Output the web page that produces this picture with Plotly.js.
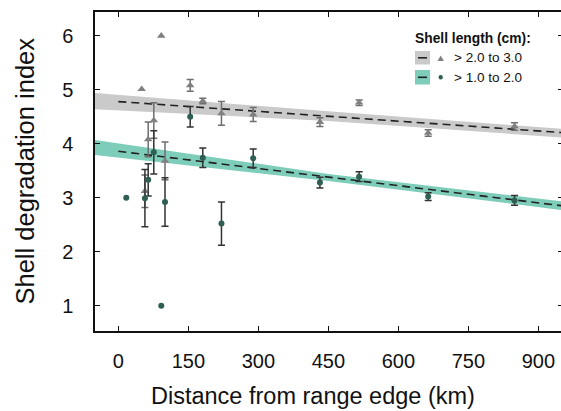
<!DOCTYPE html>
<html>
<head>
<meta charset="utf-8">
<script src="https://cdn.plot.ly/plotly-3.0.1.min.js"></script>
<style>html,body{margin:0;padding:0;background:#fff;overflow:hidden;}#chart{width:563px;height:411px;}</style>
</head>
<body>
<div id="chart"></div>
<script>
// ---- data ----
var largeLabel = "> 2.0 to 3.0";
var smallLabel = "> 1.0 to 2.0";
var legendTitle = "Shell length (cm):";
var xTitle = "Distance from range edge (km)";
var yTitle = "Shell degradation index";

var triX   = [50, 92, 57, 64, 76, 100, 154, 181, 221, 289, 432, 516, 664, 849];
var triY   = [5.01, 6.0, 3.12, 4.08, 4.43, 3.68, 5.08, 4.79, 4.56, 4.54, 4.40, 4.76, 4.20, 4.32];
var triErr = [null, null, 0.3, 0.32, 0.33, 0.35, 0.11, 0.05, 0.22, 0.13, 0.08, 0.05, 0.06, 0.07];

var circX   = [17, 57, 64, 76, 92, 100, 154, 181, 221, 289, 432, 516, 664, 849];
var circY   = [3.0, 2.99, 3.33, 3.84, 1.0, 2.92, 4.50, 3.74, 2.52, 3.73, 3.28, 3.39, 3.02, 2.95];
var circErr = [null, 0.53, 0.3, 0.4, null, 0.45, 0.19, 0.18, 0.40, 0.17, 0.10, 0.09, 0.07, 0.09];

// fitted lines
var fitX = [0, 960];
var largeFitY = [4.78, 4.20];
var smallFitY = [3.86, 2.84];

// confidence bands
var bandX = [-50, 450, 960];
var largeBandUp = [4.94, 4.60, 4.27];
var largeBandLo = [4.64, 4.42, 4.11];
var smallBandUp = [4.07, 3.44, 2.92];
var smallBandLo = [3.79, 3.31, 2.76];

var xTicks = [0, 150, 300, 450, 600, 750, 900];
var yTicks = [1, 2, 3, 4, 5, 6];

// ---- build ----
function nanify(a){ return a.map(function(v){ return v == null ? NaN : v; }); }
function ring(xs, up, lo){
  return { x: xs.concat(xs.slice().reverse()), y: up.concat(lo.slice().reverse()) };
}
var grey = '#cacaca', green = '#7ecdba';
var triCol = '#808080', circCol = '#2f5e53';
var FONT = 'Liberation Sans, Arial, sans-serif';

var gb = ring(bandX, largeBandUp, largeBandLo);
var sb = ring(bandX, smallBandUp, smallBandLo);

var traces = [
  {x: gb.x, y: gb.y, type:'scatter', mode:'lines', fill:'toself', fillcolor: grey, line:{width:0}, hoverinfo:'skip', showlegend:false},
  {x: sb.x, y: sb.y, type:'scatter', mode:'lines', fill:'toself', fillcolor: green, line:{width:0}, hoverinfo:'skip', showlegend:false},
  {x: fitX, y: largeFitY, type:'scatter', mode:'lines', line:{color:'#222', width:1.6, dash:'8px,5px'}, showlegend:false},
  {x: fitX, y: smallFitY, type:'scatter', mode:'lines', line:{color:'#222', width:1.6, dash:'8px,5px'}, showlegend:false},
  {x: triX, y: triY, type:'scatter', mode:'markers', name: largeLabel,
   marker:{symbol:'triangle-up', size:7.5, color: triCol},
   error_y:{type:'data', array: nanify(triErr), visible:true, color:'#6e6e6e', thickness:1.5, width:3.5},
   showlegend:false},
  {x: circX, y: circY, type:'scatter', mode:'markers', name: smallLabel,
   marker:{symbol:'circle', size:6, color: circCol},
   error_y:{type:'data', array: nanify(circErr), visible:true, color:'#333', thickness:1.5, width:3.5},
   showlegend:false}
];

var W = 563, H = 411, mL = 95, mR = 0, mT = 12, mB = 80;
var pw = W - mL - mR, ph = H - mT - mB;
function fx(px){ return (px - mL) / pw; }
function fy(py){ return (H - mB - py) / ph; }

var shapes = [
  {type:'rect', xref:'paper', yref:'paper', x0: fx(415), x1: fx(430), y0: fy(64.5), y1: fy(51), fillcolor: grey, line:{width:0}},
  {type:'line', xref:'paper', yref:'paper', x0: fx(418), x1: fx(427), y0: fy(57.8), y1: fy(57.8), line:{color:'#222', width:1.6}},
  {type:'path', xref:'paper', yref:'paper', path: 'M '+fx(437.5)+' '+fy(61)+' L '+fx(443.9)+' '+fy(61)+' L '+fx(440.7)+' '+fy(55.4)+' Z', fillcolor: triCol, line:{width:0}},
  {type:'rect', xref:'paper', yref:'paper', x0: fx(415), x1: fx(430), y0: fy(84.5), y1: fy(70), fillcolor: green, line:{width:0}},
  {type:'line', xref:'paper', yref:'paper', x0: fx(418), x1: fx(427), y0: fy(77.3), y1: fy(77.3), line:{color:'#222', width:1.6}},
  {type:'circle', xref:'paper', yref:'paper', x0: fx(438.5), x1: fx(442.9), y0: fy(79.5), y1: fy(75.1), fillcolor: circCol, line:{width:0}}
];

var annotations = [
  {xref:'paper', yref:'paper', x: fx(413), y: fy(38.5), xanchor:'left', yanchor:'middle', showarrow:false,
   text:'<b>'+legendTitle+'</b>', font:{family: FONT, size:13.8, color:'#111'}},
  {xref:'paper', yref:'paper', x: fx(452), y: fy(58), xanchor:'left', yanchor:'middle', showarrow:false,
   text: largeLabel.replace('>','&gt;'), font:{family: FONT, size:13.5, color:'#111'}},
  {xref:'paper', yref:'paper', x: fx(452), y: fy(77.3), xanchor:'left', yanchor:'middle', showarrow:false,
   text: smallLabel.replace('>','&gt;'), font:{family: FONT, size:13.5, color:'#111'}},
  {xref:'paper', yref:'paper', x: fx(313), y: fy(411), xanchor:'center', yanchor:'bottom', showarrow:false,
   text: xTitle, font:{family: FONT, size:23.5, color:'#111'}},
  {xref:'paper', yref:'paper', x: fx(24), y: fy(171.5), xanchor:'center', yanchor:'middle', showarrow:false, textangle:-90,
   text: yTitle, font:{family: FONT, size:25.5, color:'#111'}}
];

var layout = {
  width: W, height: H,
  margin: {l: mL, r: mR, t: mT, b: mB, pad: 0},
  paper_bgcolor: '#fff', plot_bgcolor: '#fff',
  showlegend: false,
  font: {family: FONT, color: '#111'},
  xaxis: {
    range: [-50, -50 + pw / (70/150)], tickvals: xTicks, ticktext: xTicks.map(String),
    ticks: 'inside', ticklen: 5, tickwidth: 1.3, tickcolor: '#111',
    showline: true, linecolor: '#111', linewidth: 1.6, mirror: 'ticks',
    showgrid: false, zeroline: false,
    tickfont: {size: 20, color: '#111'}, ticklabelstandoff: 11
  },
  yaxis: {
    range: [0.53, 6.44], tickvals: yTicks, ticktext: yTicks.map(String),
    ticks: 'inside', ticklen: 5, tickwidth: 1.3, tickcolor: '#111',
    showline: true, linecolor: '#111', linewidth: 1.6, mirror: 'ticks',
    showgrid: false, zeroline: false,
    tickfont: {size: 20, color: '#111'}, ticklabelstandoff: 16
  },
  shapes: shapes,
  annotations: annotations
};

Plotly.newPlot('chart', traces, layout, {staticPlot: true, displayModeBar: false});
</script>
</body>
</html>
